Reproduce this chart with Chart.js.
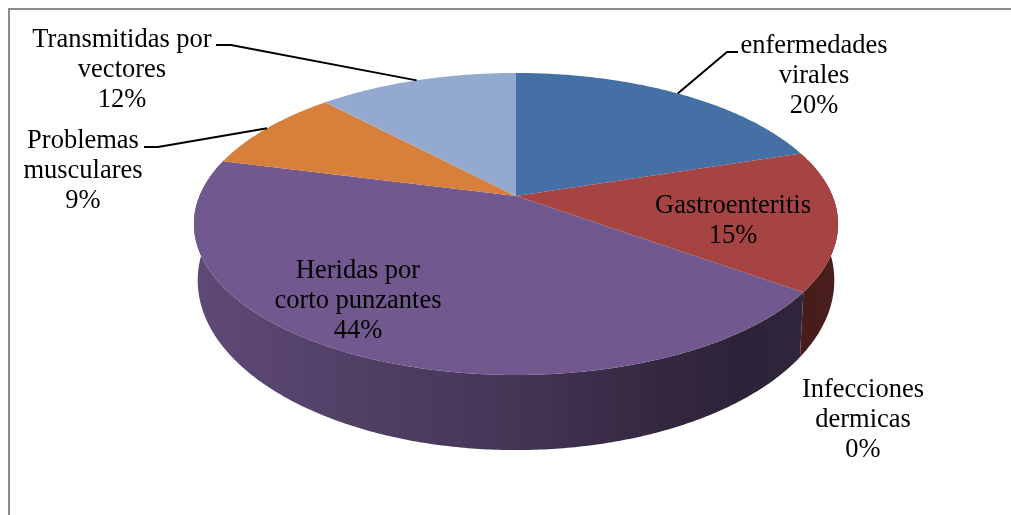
<!DOCTYPE html>
<html>
<head>
<meta charset="utf-8">
<script src="https://cdn.jsdelivr.net/npm/chart.js@4"></script>
<style>
  html, body { margin: 0; padding: 0; background: #fff; }
  canvas { display: block; }
</style>
</head>
<body>
<canvas id="chart" width="1011" height="515"></canvas>
<script>
const categories = [
  "enfermedades\nvirales",
  "Gastroenteritis",
  "Infecciones\ndermicas",
  "Heridas por\ncorto punzantes",
  "Problemas\nmusculares",
  "Transmitidas por\nvectores",
];
const values = [20, 15, 0, 44, 9, 12];
const sliceColors = ["#4470a5", "#a54442", "#89a54e", "#71588e", "#d7803c", "#93a9cf"];

// projected pie geometry (perspective tilt, Excel-like 3D)
const geo = { cx: 516, cy: 196, a: 316.5, b: 145.8, k: 0.1853, ab: 312.8, bb: 154, dz: 53 };

// label layout: centre x, first baseline, optional leader start
const labelLayout = [
  { x: 814, y: 53, leader: [[738, 52], [727, 52]] },
  { x: 733, y: 213 },
  { x: 863, y: 397 },
  { x: 358, y: 278 },
  { x: 83, y: 148, leader: [[144, 147], [158, 147]] },
  { x: 122, y: 47, leader: [[216, 45], [231, 45]] },
];

function proj(theta, bottom) {
  const X = Math.sin(theta), Y = -Math.cos(theta);
  const den = 1 - geo.k * Y;
  if (bottom) {
    return [geo.cx + geo.ab * X / den, geo.cy + (geo.bb * Y + geo.dz) / den];
  }
  return [geo.cx + geo.a * X / den, geo.cy + geo.b * Y / den];
}

function shade(hex, f) {
  const n = parseInt(hex.slice(1), 16);
  const r = Math.round(((n >> 16) & 255) * f);
  const g = Math.round(((n >> 8) & 255) * f);
  const b = Math.round((n & 255) * f);
  return "rgb(" + r + "," + g + "," + b + ")";
}

function sliceAngles(arc) {
  return [arc.startAngle + Math.PI / 2, arc.endAngle + Math.PI / 2];
}

const pie3d = {
  id: "pie3d",
  beforeDatasetsDraw(chart) {
    const ctx = chart.ctx;
    const arcs = chart.getDatasetMeta(0).data;
    const colors = chart.data.datasets[0].backgroundColor;
    const lo = 75 * Math.PI / 180, hi = 285 * Math.PI / 180;
    ctx.save();

    // outer walls
    arcs.forEach((arc, i) => {
      let [s, e] = sliceAngles(arc);
      s = Math.max(s, lo);
      e = Math.min(e, hi);
      if (e <= s) return;
      const n = Math.max(2, Math.ceil((e - s) / 0.01));
      ctx.beginPath();
      for (let j = 0; j <= n; j++) {
        const p = proj(s + (e - s) * j / n, false);
        j === 0 ? ctx.moveTo(p[0], p[1]) : ctx.lineTo(p[0], p[1]);
      }
      for (let j = n; j >= 0; j--) {
        const p = proj(s + (e - s) * j / n, true);
        ctx.lineTo(p[0], p[1]);
      }
      ctx.closePath();
      const grad = ctx.createLinearGradient(194, 0, 838, 0);
      grad.addColorStop(0, shade(colors[i], 0.84));
      grad.addColorStop(0.5, shade(colors[i], 0.6));
      grad.addColorStop(0.72, shade(colors[i], 0.46));
      grad.addColorStop(0.85, shade(colors[i], 0.4));
      grad.addColorStop(1, shade(colors[i], 0.44));
      ctx.fillStyle = grad;
      ctx.fill();
    });

    // top faces
    arcs.forEach((arc, i) => {
      const [s, e] = sliceAngles(arc);
      if (e - s <= 0) return;
      const n = Math.max(2, Math.ceil((e - s) / 0.01));
      ctx.beginPath();
      ctx.moveTo(geo.cx, geo.cy);
      for (let j = 0; j <= n; j++) {
        const p = proj(s + (e - s) * j / n, false);
        ctx.lineTo(p[0], p[1]);
      }
      ctx.closePath();
      ctx.fillStyle = colors[i];
      ctx.fill();
    });
    ctx.restore();
    return false;
  },
  afterDraw(chart) {
    const ctx = chart.ctx;
    const arcs = chart.getDatasetMeta(0).data;
    const data = chart.data.datasets[0].data;
    const total = data.reduce((t, v) => t + v, 0);
    ctx.save();

    // chart border
    ctx.strokeStyle = "#8c8c8c";
    ctx.lineWidth = 2;
    ctx.strokeRect(9, 9, 1100, 600);

    // leader lines
    ctx.strokeStyle = "#000";
    ctx.lineWidth = 2;
    arcs.forEach((arc, i) => {
      const lay = labelLayout[i];
      if (!lay.leader) return;
      const [s, e] = sliceAngles(arc);
      const anchor = proj((s + e) / 2, false);
      ctx.beginPath();
      ctx.moveTo(lay.leader[0][0], lay.leader[0][1]);
      ctx.lineTo(lay.leader[1][0], lay.leader[1][1]);
      ctx.lineTo(anchor[0], anchor[1]);
      ctx.stroke();
    });

    // labels
    ctx.fillStyle = "#000";
    ctx.font = '26.5px "Liberation Serif", "Times New Roman", serif';
    ctx.textAlign = "center";
    ctx.textBaseline = "alphabetic";
    chart.data.labels.forEach((label, i) => {
      const lay = labelLayout[i];
      const lines = label.split("\n");
      lines.push(Math.round(data[i] / total * 100) + "%");
      lines.forEach((line, j) => {
        ctx.fillText(line, lay.x, lay.y + j * 30);
      });
    });
    ctx.restore();
  },
};

new Chart(document.getElementById("chart"), {
  type: "pie",
  data: {
    labels: categories,
    datasets: [{
      data: values,
      backgroundColor: sliceColors,
      borderWidth: 0,
    }],
  },
  options: {
    responsive: false,
    animation: false,
    plugins: {
      legend: { display: false },
      tooltip: { enabled: false },
    },
  },
  plugins: [pie3d],
});
</script>
</body>
</html>
